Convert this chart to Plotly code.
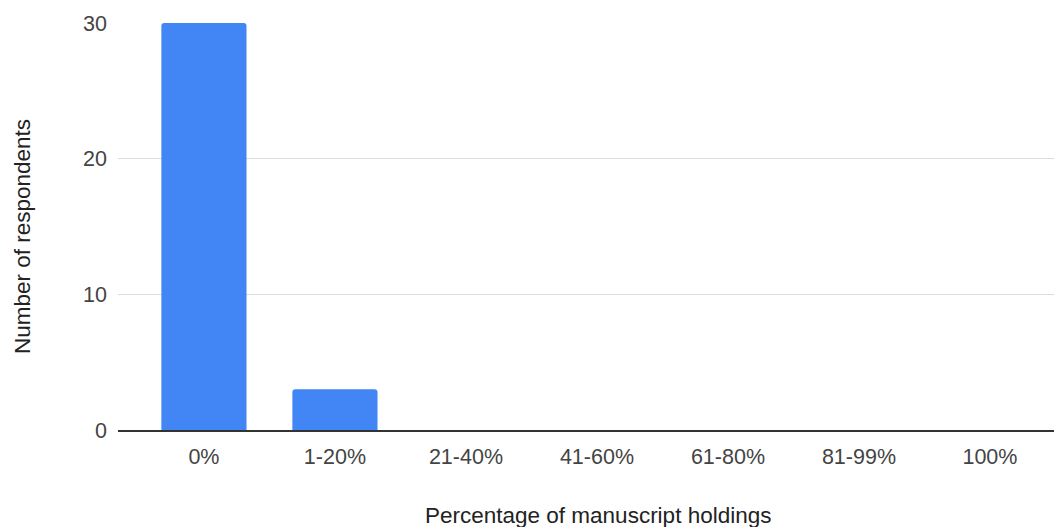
import plotly.graph_objects as go

categories = ["0%", "1-20%", "21-40%", "41-60%", "61-80%", "81-99%", "100%"]
respondents = [30, 3, 0, 0, 0, 0, 0]
y_ticks = [0, 10, 20, 30]

fig = go.Figure(go.Bar(
    x=categories, y=respondents,
    marker=dict(color="#4285F4", line=dict(width=0), cornerradius=3),
    width=0.65,
))

font_family = "Liberation Sans, Arial, sans-serif"
fig.update_layout(
    width=1054, height=519,
    margin=dict(l=110, r=0, t=15, b=97),
    paper_bgcolor="white", plot_bgcolor="white",
    showlegend=False,
    font=dict(family=font_family, size=21.5, color="#444444"),
    bargap=0.35,
)
fig.update_xaxes(
    range=[-0.656, 6.55],
    showgrid=False, showline=True, linecolor="#333333", linewidth=1.5,
    ticks="", ticklabelstandoff=6,
    tickfont=dict(size=21.5, color="#444444"),
)
fig.update_yaxes(
    range=[0, 30], tickvals=y_ticks,
    showgrid=True, gridcolor="#dddddd", gridwidth=1.2,
    zeroline=False, showline=False,
    ticks="", ticklabelstandoff=10,
    tickfont=dict(size=21.5, color="#444444"),
)
fig.add_annotation(
    text="Percentage of manuscript holdings", xref="paper", yref="paper",
    x=0.5085, y=0, yshift=-85, xanchor="center", yanchor="middle",
    showarrow=False, font=dict(size=22.5, color="#222222"),
)
fig.add_annotation(
    text="Number of respondents", xref="paper", yref="paper",
    x=0, y=0.474, xshift=-96, xanchor="center", yanchor="middle",
    textangle=-90, showarrow=False, font=dict(size=22.5, color="#222222"),
)

fig.write_html("out.html")
